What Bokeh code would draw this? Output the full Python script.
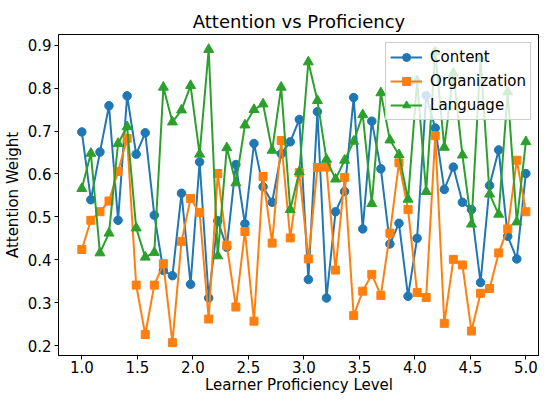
from bokeh.plotting import figure
from bokeh.models import Range1d, FixedTicker, PrintfTickFormatter
from bokeh.embed import file_html
from bokeh.resources import INLINE

proficiency = [1.0, 1.0816, 1.1633, 1.2449, 1.3265, 1.4082, 1.4898, 1.5714, 1.6531, 1.7347,
               1.8163, 1.898, 1.9796, 2.0612, 2.1429, 2.2245, 2.3061, 2.3878, 2.4694, 2.551,
               2.6327, 2.7143, 2.7959, 2.8776, 2.9592, 3.0408, 3.1224, 3.2041, 3.2857, 3.3673,
               3.449, 3.5306, 3.6122, 3.6939, 3.7755, 3.8571, 3.9388, 4.0204, 4.102, 4.1837,
               4.2653, 4.3469, 4.4286, 4.5102, 4.5918, 4.6735, 4.7551, 4.8367, 4.9184, 5.0]

content = [0.698, 0.540, 0.651, 0.759, 0.492, 0.782, 0.646, 0.696, 0.504, 0.375,
           0.363, 0.555, 0.343, 0.628, 0.311, 0.491, 0.429, 0.622, 0.484, 0.671,
           0.570, 0.534, 0.647, 0.675, 0.727, 0.354, 0.745, 0.311, 0.512, 0.559,
           0.778, 0.472, 0.723, 0.612, 0.437, 0.485, 0.315, 0.450, 0.783, 0.707,
           0.564, 0.616, 0.534, 0.517, 0.347, 0.573, 0.656, 0.455, 0.402, 0.601]

organization = [0.424, 0.492, 0.512, 0.537, 0.606, 0.683, 0.341, 0.226, 0.341, 0.391,
                0.207, 0.443, 0.543, 0.510, 0.262, 0.601, 0.434, 0.290, 0.466, 0.257,
                0.594, 0.439, 0.678, 0.451, 0.603, 0.402, 0.615, 0.616, 0.376, 0.592,
                0.270, 0.327, 0.366, 0.317, 0.462, 0.626, 0.517, 0.324, 0.312, 0.689,
                0.252, 0.401, 0.388, 0.234, 0.322, 0.333, 0.416, 0.472, 0.632, 0.512]

language = [0.566, 0.648, 0.416, 0.462, 0.671, 0.710, 0.474, 0.406, 0.417, 0.802,
            0.721, 0.749, 0.806, 0.646, 0.890, 0.409, 0.661, 0.579, 0.714, 0.750,
            0.763, 0.655, 0.802, 0.517, 0.605, 0.861, 0.771, 0.634, 0.588, 0.632,
            0.676, 0.738, 0.531, 0.789, 0.679, 0.645, 0.541, 0.817, 0.559, 0.885,
            0.662, 0.835, 0.644, 0.483, 0.870, 0.553, 0.506, 0.791, 0.488, 0.675]

x_ticks = [1.0, 1.5, 2.0, 2.5, 3.0, 3.5, 4.0, 4.5, 5.0]
y_ticks = [0.2, 0.3, 0.4, 0.5, 0.6, 0.7, 0.8, 0.9]

FONT = "DejaVu Sans"

p = figure(width=539, height=396, output_backend="svg", toolbar_location=None,
           x_range=Range1d(0.79, 5.123), y_range=Range1d(0.177, 0.925),
           min_border_left=57, min_border_right=0, min_border_top=34, min_border_bottom=0,
           title="Attention vs Proficiency")

p.title.align = "center"
p.title.text_font = FONT
p.title.text_font_size = "18px"
p.title.text_font_style = "normal"
p.title.text_color = "black"
p.title.standoff = 5

p.xgrid.visible = False
p.ygrid.visible = False
p.outline_line_color = "black"
p.outline_line_width = 1
p.outline_line_alpha = 1

for ax in (p.xaxis, p.yaxis):
    ax.axis_line_color = "black"
    ax.major_tick_line_color = "black"
    ax.major_tick_in = 0
    ax.major_tick_out = 4
    ax.minor_tick_line_color = None
    ax.major_label_text_font = FONT
    ax.major_label_text_font_size = "15px"
    ax.major_label_text_color = "black"
    ax.axis_label_text_font = FONT
    ax.axis_label_text_font_size = "15px"
    ax.axis_label_text_font_style = "normal"
    ax.axis_label_text_color = "black"
    ax.major_label_standoff = 3
    ax.axis_label_standoff = 3
    ax.formatter = PrintfTickFormatter(format="%.1f")

p.xaxis.major_label_standoff = 1
p.xaxis.axis_label_standoff = 0
p.xaxis.major_label_text_line_height = 1.0
p.xaxis.axis_label_text_line_height = 1.0
p.xaxis.ticker = FixedTicker(ticks=x_ticks)
p.yaxis.ticker = FixedTicker(ticks=y_ticks)
p.xaxis.axis_label = "Learner Proficiency Level"
p.yaxis.axis_label = "Attention Weight"

series = [
    ("Content", content, "#1f77b4", "circle", 8.5),
    ("Organization", organization, "#ff7f0e", "square", 8),
    ("Language", language, "#2ca02c", "triangle", 10),
]
for name, vals, color, marker, size in series:
    p.line(proficiency, vals, line_color=color, line_width=2, legend_label=name)
    p.scatter(proficiency, vals, marker=marker, size=size, fill_color=color,
              line_color=color, legend_label=name)

lg = p.legend[0]
lg.location = "top_right"
lg.label_text_font = FONT
lg.label_text_font_size = "15px"
lg.label_text_color = "black"
lg.border_line_color = "#cccccc"
lg.border_line_alpha = 1
lg.background_fill_alpha = 0.8
lg.glyph_width = 32
lg.glyph_height = 20
lg.spacing = 4
lg.padding = 4
lg.margin = 8
lg.label_standoff = 8

open("out.html", "w").write(file_html(p, INLINE))
